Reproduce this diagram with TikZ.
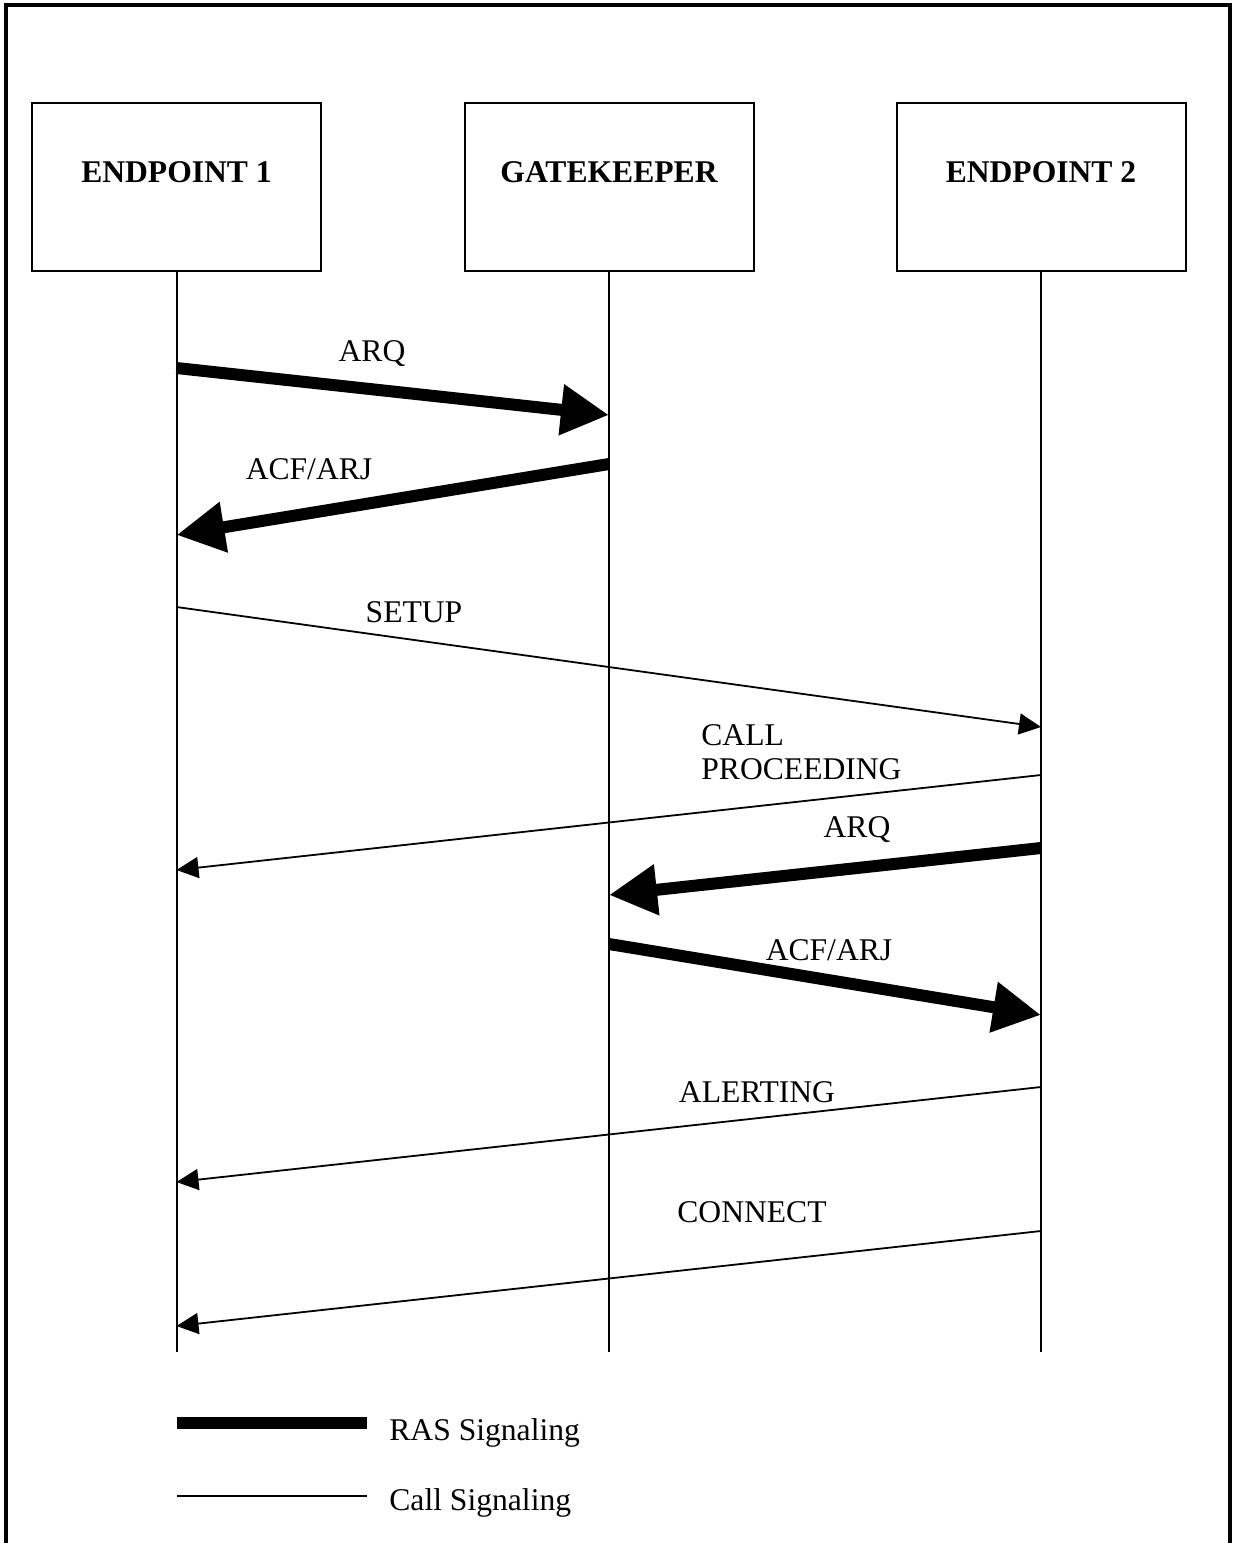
\documentclass[tikz,border=0pt]{standalone}
\usepackage{fontspec}
\setmainfont{Liberation Serif}
\usetikzlibrary{arrows.meta}

\begin{document}
\begin{tikzpicture}[
      x=0.5pt, y=-0.5pt,
      every node/.style={font=\fontsize{15.8}{17}\selectfont},
      entity/.style={draw,line width=1pt,minimum width=144.5pt,minimum height=84pt,
        font=\fontsize{15.8}{17}\selectfont\bfseries,text height=10pt,text depth=15pt},
      lifeline/.style={line width=1pt},
      ras/.style={line width=6pt,-{Triangle[length=24pt,width=24pt]}},
      callsig/.style={line width=0.9pt,-{Triangle[length=11pt,width=10.5pt]}},
      msg/.style={anchor=base,inner sep=0pt},
      ]
      \useasboundingbox (0,0) rectangle (1236,1543);
      \draw[line width=2pt] (6,1543) -- (6,5) -- (1230,5) -- (1230,1543);
      % entities
      \node[entity] (ep1) at (176.5,187) {ENDPOINT 1};
      \node[entity] (gk)  at (609,187)   {GATEKEEPER};
      \node[entity] (ep2) at (1041,187)  {ENDPOINT 2};
      \coordinate (ep1end) at (176.5,1352);
      \coordinate (gkend)  at (609,1352);
      \coordinate (ep2end) at (1041,1352);
      \draw[lifeline] (ep1) -- (ep1end);
      \draw[lifeline] (gk)  -- (gkend);
      \draw[lifeline] (ep2) -- (ep2end);
      % message ends
      \coordinate (arqAfrom)   at (176.5,368);
      \coordinate (arqAto)     at (609,415);
      \coordinate (acfAfrom)   at (609,464);
      \coordinate (acfAto)     at (176.5,535);
      \coordinate (setupfrom)  at (176.5,607);
      \coordinate (setupto)    at (1041,727);
      \coordinate (procfrom)   at (1041,775);
      \coordinate (procto)     at (176.5,870);
      \coordinate (arqBfrom)   at (1041,848);
      \coordinate (arqBto)     at (609,895);
      \coordinate (acfBfrom)   at (609,944);
      \coordinate (acfBto)     at (1041,1015);
      \coordinate (alertfrom)  at (1041,1087);
      \coordinate (alertto)    at (176.5,1182);
      \coordinate (connfrom)   at (1041,1231);
      \coordinate (connto)     at (176.5,1326);
      % messages
      \draw[ras]     (arqAfrom)  -- (arqAto);
      \draw[ras]     (acfAfrom)  -- (acfAto);
      \draw[callsig] (setupfrom) -- (setupto);
      \draw[callsig] (procfrom)  -- (procto);
      \draw[ras]     (arqBfrom)  -- (arqBto);
      \draw[ras]     (acfBfrom)  -- (acfBto);
      \draw[callsig] (alertfrom) -- (alertto);
      \draw[callsig] (connfrom)  -- (connto);
      % labels
      \node[msg] (arqAlbl)  at (372,361)  {ARQ};
      \node[msg] (acfAlbl)  at (309,479)  {ACF/ARJ};
      \node[msg] (setuplbl) at (414,622)  {SETUP};
      \node[align=left,anchor=north west,inner sep=0pt] (proclbl) at (701,724) {CALL\\PROCEEDING};
      \node[msg] (arqBlbl)  at (857,837)  {ARQ};
      \node[msg] (acfBlbl)  at (829,960)  {ACF/ARJ};
      \node[msg] (alertlbl) at (757,1102) {ALERTING};
      \node[msg] (connlbl)  at (752,1222) {CONNECT};
      % legend
      \coordinate (rasA)  at (177,1423);
      \coordinate (rasB)  at (367,1423);
      \coordinate (callA) at (177,1496);
      \coordinate (callB) at (367,1496);
      \draw[line width=6pt]   (rasA)  -- (rasB);
      \draw[line width=0.9pt] (callA) -- (callB);
      \node[anchor=base west,inner sep=0pt] (raslbl)  at (389,1440) {RAS Signaling};
      \node[anchor=base west,inner sep=0pt] (calllbl) at (389,1510) {Call Signaling};
    \end{tikzpicture}
\end{document}
